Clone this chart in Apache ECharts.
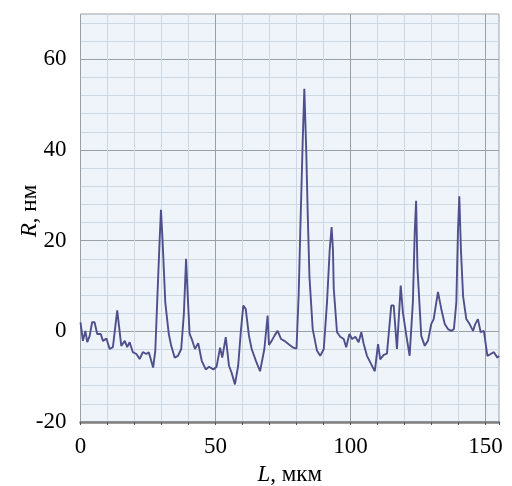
<!DOCTYPE html>
<html>
<head>
<meta charset="utf-8">
<script src="https://cdn.jsdelivr.net/npm/echarts@6/dist/echarts.min.js"></script>
<style>
html,body{margin:0;padding:0;background:#fff;}
#c{width:512px;height:486px;}
</style>
</head>
<body>
<div id="c"></div>
<script>
// Profile R (nm) vs L (µm)
const L = [0,0.9,1.8,2.5,3.4,4.3,5.2,6.2,7.5,8.3,9.6,10.8,12,13.6,15.1,16.4,17.3,18.2,19.4,20.7,21.9,23.1,24.4,25.3,26.9,27.7,28.4,29.3,29.8,30.4,31.4,32.7,33.6,34.9,36.1,37.3,38.3,39.1,39.7,40.4,41.2,42.4,43.6,44.9,46.4,47.6,49.2,50.4,51.7,52.5,53.8,55,56,57.2,58.4,59.4,60.3,61.2,62.4,63.4,64.9,66.5,68.1,69.3,69.8,70.8,71.8,73,74.3,75.5,77,78.8,80,80.8,81.4,82.3,82.9,83.6,84.2,84.8,86,87.6,88.8,90.1,91.3,92.3,93,93.5,93.8,95,96.2,97.5,98.4,99.6,100.6,101.8,103,104,104.9,106.1,107.7,109,110.2,111,112.3,113.5,115.1,116,117.2,118.6,119.4,120.7,121.9,123.1,123.8,124.3,124.8,126.2,127.5,128.7,129.9,130.8,132.4,133.6,134.9,136.1,137.4,138.3,139.2,139.8,140.3,140.9,141.7,142.9,144.1,145.4,146.2,147.2,148.2,149.4,150.7,151.9,153.1,154.4,155];
const R = [2,-2.1,0.1,-2.4,-1,2,2,-0.6,-0.6,-2.1,-1.6,-3.9,-3.5,4.6,-3.2,-2.1,-3.5,-2.4,-4.6,-5,-6.1,-4.6,-5,-4.6,-8,-4.3,6.4,20,26.8,20,6.4,-0.6,-3.2,-5.8,-5.4,-3.9,4,16,8,-0.5,-1.7,-3.9,-2.6,-6.5,-8.4,-7.8,-8.4,-7.8,-3.6,-5.8,-1.3,-7.6,-9.2,-11.7,-7.6,0.1,5.7,4.9,-1,-3.9,-6.4,-8.8,-3.9,3.5,-3,-2.1,-1,0.1,-1.7,-2.1,-2.8,-3.6,-3.8,8,22,42,53.5,40,25,12,0.5,-4.3,-5.4,-3.9,6.4,18,23,18,9.4,-0.2,-1.2,-1.7,-3.5,-0.6,-1.7,-1.2,-2.4,-0.2,-2.8,-5.4,-7.3,-8.8,-2.8,-6.2,-5.2,-4.9,5.7,5.7,-3.9,10.1,4.2,-1,-5.4,6.4,22,28.8,14,-1,-3.2,-2.1,1.6,2.7,8.7,5,1.6,0.5,0.1,0.5,6.4,22,29.8,18,7.7,2.7,1.6,0.1,1.6,2.7,-0.2,0.1,-5.4,-5,-4.6,-5.8,-5.4];
const xLabels = [0, 50, 100, 150];
const yLabels = [-20, 0, 20, 40, 60];

const MAJOR = '#9aa0a8';
const MINOR = '#cdd8e3';
const FONT = '"Liberation Serif", "DejaVu Serif", serif';

const chart = echarts.init(document.getElementById('c'), null, {renderer: 'canvas'});
chart.setOption({
  animation: false,
  backgroundColor: '#ffffff',
  grid: {
    left: 80.5, right: 13, top: 14, bottom: 64,
    containLabel: false, outerBoundsMode: 'none',
    show: true, backgroundColor: '#eef4fa', borderColor: MAJOR, borderWidth: 1
  },
  xAxis: {
    type: 'value', min: 0, max: 155, interval: 10,
    name: '{i|L}, мкм',
    nameLocation: 'middle', nameGap: 41, nameMoveOverlap: false,
    nameTextStyle: {
      fontFamily: FONT, fontSize: 23, color: '#000',
      rich: {i: {fontFamily: FONT, fontSize: 23, fontStyle: 'italic', color: '#000'}}
    },
    axisLine: {show: true, onZero: false, lineStyle: {color: '#808080', width: 2.5}},
    axisTick: {show: true, length: 3, lineStyle: {color: '#555'}},
    axisLabel: {
      margin: 13, fontFamily: FONT, fontSize: 23, color: '#000',
      formatter: v => xLabels.indexOf(v) >= 0 ? String(v) : ''
    },
    splitLine: {show: true, showMaxLine: false, lineStyle: {color: [MAJOR, MINOR, MINOR, MINOR, MINOR], width: 1}}
  },
  yAxis: {
    type: 'value', min: -20, max: 70, interval: 4,
    name: '{i|R}, нм',
    nameLocation: 'middle', nameGap: 39, nameRotate: 90, nameMoveOverlap: false,
    nameTextStyle: {
      fontFamily: FONT, fontSize: 23, color: '#000', padding: [0, 0, 0, 14],
      rich: {i: {fontFamily: FONT, fontSize: 23, fontStyle: 'italic', color: '#000'}}
    },
    axisLine: {show: false},
    axisTick: {show: false},
    axisLabel: {
      margin: 14, fontFamily: FONT, fontSize: 23, color: '#000',
      formatter: v => yLabels.indexOf(v) >= 0 ? String(v) : ''
    },
    splitLine: {show: true, showMaxLine: false, lineStyle: {color: [MAJOR, MINOR, MINOR, MINOR, MINOR], width: 1}}
  },
  series: [{
    type: 'line',
    data: L.map((x, i) => [x, R[i]]),
    showSymbol: false,
    smooth: false,
    lineStyle: {color: '#4f4f8c', width: 1.9},
    z: 5
  }]
});
</script>
</body>
</html>
